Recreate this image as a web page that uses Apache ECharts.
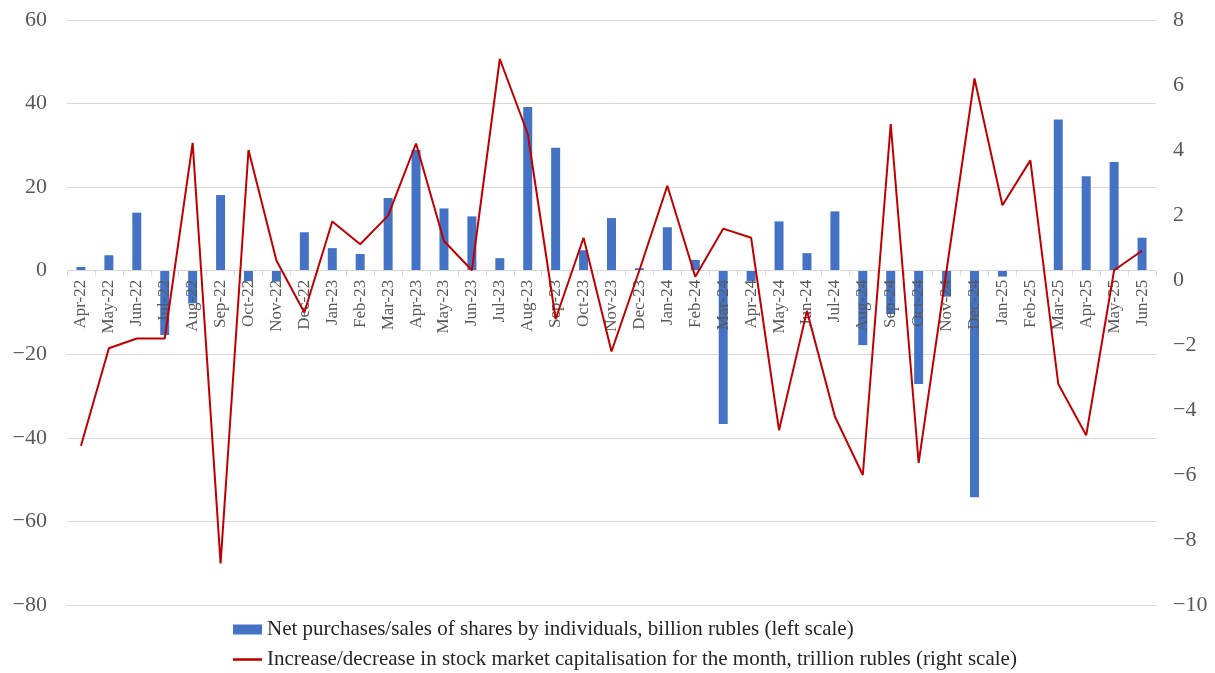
<!DOCTYPE html>
<html>
<head>
<meta charset="utf-8">
<script src="https://cdn.jsdelivr.net/npm/echarts@6/dist/echarts.min.js"></script>
<style>
  html, body { margin: 0; padding: 0; background: #fff; }
  #chart { width: 1215px; height: 673px; }
</style>
</head>
<body>
<div id="chart"></div>
<script>
// Months from Apr-22 to Jun-25
const months = [
  'Apr-22','May-22','Jun-22','Jul-22','Aug-22','Sep-22','Oct-22','Nov-22','Dec-22',
  'Jan-23','Feb-23','Mar-23','Apr-23','May-23','Jun-23','Jul-23','Aug-23','Sep-23','Oct-23','Nov-23','Dec-23',
  'Jan-24','Feb-24','Mar-24','Apr-24','May-24','Jun-24','Jul-24','Aug-24','Sep-24','Oct-24','Nov-24','Dec-24',
  'Jan-25','Feb-25','Mar-25','Apr-25','May-25','Jun-25'
];

// Net purchases/sales of shares by individuals, billion rubles (left scale)
const netPurchases = [
  0.9, 3.7, 13.9, -15.4, -7.8, 18.1, -2.5, -2.6, 9.2,
  5.4, 4.0, 17.4, 28.9, 14.9, 13.0, 3.0, 39.2, 29.4, 4.9, 12.6, 0.6,
  10.4, 2.6, -36.7, -2.5, 11.8, 4.2, 14.2, -17.8, -10.4, -27.1, -6.2, -54.2,
  -1.4, 0.0, 36.2, 22.6, 26.0, 7.9
];

// Increase/decrease in stock market capitalisation, trillion rubles (right scale)
const capChange = [
  -5.1, -2.1, -1.8, -1.8, 4.22, -8.72, 4.0, 0.6, -1.0,
  1.8, 1.1, 1.98, 4.2, 1.2, 0.3, 6.8, 4.5, -1.2, 1.3, -2.2, 0.3,
  2.9, 0.1, 1.58, 1.3, -4.62, -0.95, -4.2, -6.0, 4.8, -5.63, 0.3, 6.2,
  2.3, 3.68, -3.2, -4.78, 0.3, 0.9
];

const barName = 'Net purchases/sales of shares by individuals, billion rubles (left scale)';
const lineName = 'Increase/decrease in stock market capitalisation for the month, trillion rubles (right scale)';

const leftTicks = { min: -80, max: 60, interval: 20 };
const rightTicks = { min: -10, max: 8, interval: 2 };

const serif = '"Liberation Serif", "DejaVu Serif", serif';
const minus = v => (v < 0 ? '\u2212' + Math.abs(v) : String(v));

const legendText = { fontFamily: serif, fontSize: 21, color: '#262626' };
const gridBox = { left: 67, right: 59, top: 20, bottom: 68 };

const chart = echarts.init(document.getElementById('chart'));
chart.setOption({
  animation: false,
  backgroundColor: '#fff',
  textStyle: { fontFamily: serif },
  grid: Object.assign({ containLabel: false }, gridBox),
  legend: [
    {
      left: 228, top: 614, itemWidth: 29, itemHeight: 10,
      textStyle: legendText,
      data: [{ name: barName, icon: 'rect' }]
    },
    {
      left: 228, top: 644, itemWidth: 29, itemHeight: 10,
      textStyle: legendText,
      data: [{ name: lineName, icon: 'path://M0,3.8 L29,3.8 L29,6.4 L0,6.4 Z' }]
    }
  ],
  xAxis: {
    type: 'category',
    data: months,
    boundaryGap: true,
    offset: 0,
    z: 5,
    axisLine: { onZero: false, lineStyle: { color: '#d9d9d9', width: 1 } },
    axisTick: { show: true, alignWithLabel: false, length: 5, lineStyle: { color: '#d9d9d9' } },
    axisLabel: {
      interval: 0,
      rotate: 90,
      margin: 9,
      fontFamily: serif,
      fontSize: 17,
      color: '#595959'
    },
    splitLine: { show: false }
  },
  yAxis: [
    {
      type: 'value',
      position: 'left',
      min: leftTicks.min,
      max: leftTicks.max,
      interval: leftTicks.interval,
      axisLine: { show: false },
      axisTick: { show: false },
      axisLabel: { fontFamily: serif, fontSize: 22, color: '#595959', margin: 20, formatter: minus },
      splitLine: { show: true, lineStyle: { color: '#d9d9d9', width: 1 } }
    },
    {
      type: 'value',
      position: 'right',
      min: rightTicks.min,
      max: rightTicks.max,
      interval: rightTicks.interval,
      axisLine: { show: false },
      axisTick: { show: false },
      axisLabel: { fontFamily: serif, fontSize: 22, color: '#595959', margin: 17, formatter: minus },
      splitLine: { show: false }
    }
  ],
  series: [
    {
      name: barName,
      type: 'bar',
      yAxisIndex: 0,
      data: netPurchases,
      barWidth: 9,
      z: 2,
      itemStyle: { color: '#4472c4' }
    },
    {
      name: lineName,
      type: 'line',
      yAxisIndex: 1,
      data: capChange,
      showSymbol: false,
      symbol: 'none',
      lineStyle: { color: '#c00000', width: 2 },
      itemStyle: { color: '#c00000' },
      z: 10
    }
  ]
});

// Lift the category axis onto the zero line of the left scale
const zeroY = chart.convertToPixel({ yAxisIndex: 0 }, 0);
const bottomY = chart.getHeight() - gridBox.bottom;
chart.setOption({ xAxis: { offset: zeroY - bottomY } });
</script>
</body>
</html>
